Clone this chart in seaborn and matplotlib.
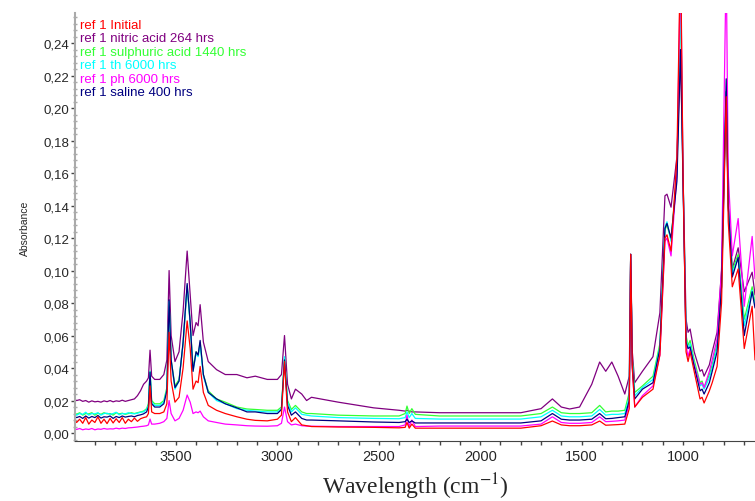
import matplotlib
matplotlib.use("Agg")
import matplotlib.pyplot as plt
import matplotlib.ticker as mticker
from matplotlib.lines import Line2D
import numpy as np
import pandas as pd
import seaborn as sns

# Wavenumber grid (cm-1): a fine noisy stretch, then the main part of the spectrum
wn_noise = [4005, 3990, 3975, 3960, 3945, 3930, 3915, 3900, 3885, 3870, 3855, 3840,
            3825, 3810, 3795, 3780, 3765, 3750, 3735, 3720, 3705, 3690, 3675, 3660]
wn_main = [3645, 3636, 3628, 3620, 3605, 3580, 3560, 3545, 3534, 3524, 3505, 3485,
           3465, 3445, 3430, 3416, 3401, 3391, 3381, 3365, 3341, 3300, 3257, 3200,
           3150, 3109, 3050, 3000, 2980, 2965, 2950, 2931, 2911, 2880, 2856, 2832,
           2700, 2525, 2400, 2370, 2361, 2350, 2337, 2320, 2200, 2000, 1800, 1700,
           1644, 1600, 1559, 1510, 1450, 1411, 1381, 1351, 1320, 1287, 1265, 1258,
           1250, 1238, 1200, 1148, 1114, 1089, 1079, 1059, 1030, 1012, 1000, 985,
           975, 965, 945, 916, 906, 896, 870, 856, 832, 810, 787, 777,
           757, 728, 698, 659, 645]

# ref 1 Initial
red_a = [0.009, 0.0065, 0.0085, 0.006, 0.0095, 0.0055, 0.008, 0.0065, 0.010, 0.006, 0.0085, 0.0058,
         0.009, 0.0062, 0.0088, 0.0065, 0.0095, 0.006, 0.0085, 0.007, 0.0092, 0.0072, 0.0088, 0.0095]
red_b = [0.010, 0.012, 0.029, 0.013, 0.012, 0.012, 0.013, 0.018, 0.062, 0.032, 0.019, 0.022,
         0.040, 0.069, 0.052, 0.027, 0.032, 0.031, 0.041, 0.025, 0.017, 0.014, 0.012, 0.010,
         0.0085, 0.0078, 0.0075, 0.0085, 0.011, 0.044, 0.013, 0.007, 0.0095, 0.005, 0.0045, 0.004,
         0.0037, 0.0035, 0.0032, 0.0035, 0.0065, 0.003, 0.0055, 0.003, 0.003, 0.003, 0.003, 0.0045,
         0.0074, 0.005, 0.0045, 0.0045, 0.005, 0.0074, 0.0048, 0.005, 0.0052, 0.0055, 0.015, 0.110,
         0.040, 0.016, 0.022, 0.027, 0.048, 0.120, 0.122, 0.112, 0.170, 0.300, 0.160, 0.050,
         0.044, 0.050, 0.038, 0.021, 0.022, 0.0185, 0.026, 0.031, 0.041, 0.080, 0.207, 0.130,
         0.090, 0.101, 0.052, 0.078, 0.045]

# ref 1 nitric acid 264 hrs
purple_a = [0.021, 0.020, 0.0205, 0.0195, 0.020, 0.019, 0.0198, 0.0192, 0.0195, 0.019, 0.0198, 0.0193,
            0.020, 0.0192, 0.0198, 0.0195, 0.0202, 0.0195, 0.020, 0.0205, 0.021, 0.023, 0.026, 0.030]
purple_b = [0.032, 0.034, 0.051, 0.035, 0.033, 0.033, 0.036, 0.045, 0.100, 0.060, 0.044, 0.050,
            0.075, 0.112, 0.085, 0.060, 0.068, 0.066, 0.079, 0.056, 0.044, 0.039, 0.036, 0.036,
            0.034, 0.035, 0.033, 0.033, 0.036, 0.060, 0.030, 0.021, 0.027, 0.024, 0.020, 0.022,
            0.019, 0.0155, 0.014, 0.0135, 0.014, 0.0135, 0.013, 0.013, 0.0125, 0.0125, 0.0125, 0.015,
            0.021, 0.016, 0.0148, 0.016, 0.030, 0.0437, 0.038, 0.0437, 0.035, 0.024, 0.035, 0.110,
            0.050, 0.031, 0.038, 0.047, 0.074, 0.146, 0.147, 0.139, 0.170, 0.235, 0.160, 0.070,
            0.062, 0.064, 0.050, 0.038, 0.039, 0.035, 0.042, 0.050, 0.062, 0.100, 0.210, 0.140,
            0.101, 0.114, 0.087, 0.099, 0.085]

# ref 1 sulphuric acid 1440 hrs
green_a = [0.013, 0.0115, 0.0125, 0.011, 0.012, 0.0118, 0.0125, 0.011, 0.0122, 0.0115, 0.0125, 0.0118,
           0.012, 0.011, 0.0125, 0.0118, 0.0122, 0.0115, 0.012, 0.0125, 0.012, 0.0125, 0.013, 0.0135]
green_b = [0.015, 0.018, 0.038, 0.020, 0.018, 0.018, 0.020, 0.028, 0.080, 0.045, 0.029, 0.033,
           0.055, 0.090, 0.068, 0.040, 0.050, 0.048, 0.056, 0.036, 0.026, 0.021, 0.019, 0.016,
           0.0148, 0.0145, 0.014, 0.014, 0.016, 0.046, 0.020, 0.0145, 0.017, 0.013, 0.012, 0.012,
           0.011, 0.0105, 0.0105, 0.012, 0.0166, 0.012, 0.015, 0.0115, 0.0105, 0.0105, 0.0105, 0.012,
           0.016, 0.0125, 0.012, 0.012, 0.0125, 0.017, 0.013, 0.0135, 0.0135, 0.014, 0.025, 0.110,
           0.045, 0.025, 0.029, 0.035, 0.055, 0.125, 0.128, 0.119, 0.160, 0.270, 0.160, 0.060,
           0.054, 0.057, 0.045, 0.031, 0.032, 0.028, 0.036, 0.042, 0.055, 0.090, 0.210, 0.140,
           0.100, 0.110, 0.070, 0.090, 0.080]

# ref 1 th 6000 hrs
cyan_a = [0.0125, 0.011, 0.012, 0.0115, 0.0128, 0.011, 0.012, 0.0118, 0.0125, 0.011, 0.012, 0.0122,
          0.0115, 0.012, 0.0128, 0.0112, 0.012, 0.0118, 0.0125, 0.012, 0.0118, 0.0122, 0.0128, 0.013]
cyan_b = [0.0145, 0.017, 0.038, 0.019, 0.017, 0.017, 0.019, 0.027, 0.081, 0.044, 0.027, 0.032,
          0.055, 0.091, 0.067, 0.038, 0.049, 0.047, 0.055, 0.035, 0.025, 0.020, 0.018, 0.015,
          0.014, 0.0135, 0.013, 0.013, 0.015, 0.047, 0.019, 0.013, 0.0155, 0.0115, 0.011, 0.0105,
          0.0095, 0.009, 0.0088, 0.0095, 0.013, 0.0095, 0.012, 0.009, 0.0086, 0.0086, 0.0086, 0.010,
          0.014, 0.0105, 0.010, 0.010, 0.0105, 0.0145, 0.011, 0.0115, 0.0115, 0.012, 0.022, 0.110,
          0.043, 0.023, 0.028, 0.033, 0.053, 0.127, 0.130, 0.118, 0.160, 0.270, 0.160, 0.058,
          0.052, 0.055, 0.043, 0.029, 0.030, 0.027, 0.034, 0.040, 0.053, 0.090, 0.210, 0.140,
          0.098, 0.108, 0.066, 0.088, 0.078]

# ref 1 ph 6000 hrs
magenta_a = [0.003, 0.0022, 0.0028, 0.002, 0.0025, 0.0022, 0.0028, 0.002, 0.0025, 0.0023, 0.0028, 0.0024,
             0.0026, 0.0025, 0.003, 0.0026, 0.003, 0.0028, 0.0032, 0.0033, 0.0035, 0.0037, 0.004, 0.0042]
magenta_b = [0.0045, 0.005, 0.0086, 0.0055, 0.0055, 0.006, 0.007, 0.009, 0.020, 0.012, 0.0075, 0.009,
             0.014, 0.0234, 0.019, 0.012, 0.013, 0.0125, 0.0135, 0.010, 0.0075, 0.0065, 0.0055, 0.005,
             0.0045, 0.0043, 0.0042, 0.0045, 0.006, 0.016, 0.007, 0.005, 0.0055, 0.0045, 0.0043, 0.0042,
             0.004, 0.004, 0.004, 0.005, 0.011, 0.004, 0.008, 0.004, 0.0043, 0.0043, 0.0043, 0.0055,
             0.010, 0.0065, 0.006, 0.006, 0.0065, 0.010, 0.007, 0.0072, 0.0075, 0.008, 0.018, 0.110,
             0.040, 0.016, 0.023, 0.029, 0.048, 0.118, 0.120, 0.109, 0.160, 0.290, 0.160, 0.054,
             0.047, 0.052, 0.042, 0.030, 0.031, 0.028, 0.038, 0.045, 0.058, 0.100, 0.290, 0.160,
             0.109, 0.132, 0.078, 0.121, 0.095]

# ref 1 saline 400 hrs
blue_a = [0.0105, 0.0095, 0.0102, 0.009, 0.0105, 0.0092, 0.0102, 0.0095, 0.0108, 0.0092, 0.0100, 0.0098,
          0.0105, 0.009, 0.0102, 0.0095, 0.0105, 0.0098, 0.0102, 0.0105, 0.010, 0.0108, 0.0112, 0.0118]
blue_b = [0.013, 0.016, 0.0375, 0.018, 0.016, 0.016, 0.018, 0.026, 0.082, 0.045, 0.028, 0.032,
          0.056, 0.092, 0.068, 0.038, 0.050, 0.048, 0.057, 0.036, 0.025, 0.021, 0.018, 0.0155,
          0.013, 0.013, 0.012, 0.012, 0.0145, 0.045, 0.017, 0.011, 0.013, 0.009, 0.008, 0.008,
          0.0075, 0.0068, 0.0065, 0.007, 0.0085, 0.0065, 0.0075, 0.0062, 0.0062, 0.0062, 0.0062, 0.0075,
          0.012, 0.0085, 0.008, 0.008, 0.0085, 0.012, 0.0088, 0.009, 0.0095, 0.010, 0.020, 0.110,
          0.042, 0.021, 0.027, 0.031, 0.052, 0.126, 0.129, 0.120, 0.155, 0.236, 0.155, 0.056,
          0.052, 0.053, 0.041, 0.026, 0.027, 0.024, 0.031, 0.038, 0.050, 0.090, 0.218, 0.140,
          0.096, 0.108, 0.060, 0.087, 0.077]

legend_labels = ["ref 1 Initial", "ref 1 nitric acid 264 hrs", "ref 1 sulphuric acid 1440 hrs",
                 "ref 1 th 6000 hrs", "ref 1 ph 6000 hrs", "ref 1 saline 400 hrs"]
legend_colors = ["#ff0000", "#800080", "#33ff33", "#00ffff", "#ff00ff", "#000080"]

series = {
    "ref 1 Initial": red_a + red_b,
    "ref 1 nitric acid 264 hrs": purple_a + purple_b,
    "ref 1 sulphuric acid 1440 hrs": green_a + green_b,
    "ref 1 th 6000 hrs": cyan_a + cyan_b,
    "ref 1 ph 6000 hrs": magenta_a + magenta_b,
    "ref 1 saline 400 hrs": blue_a + blue_b,
}
wn = wn_noise + wn_main
df = pd.concat([pd.DataFrame({"wn": wn, "absorbance": v, "sample": k}) for k, v in series.items()])

# drawing order (red on top)
draw_order = [legend_labels[i] for i in [1, 2, 3, 4, 5, 0]]
palette = dict(zip(legend_labels, legend_colors))

sns.set_style("white")
plt.rcParams["font.family"] = ["Liberation Sans", "DejaVu Sans"]
plt.rcParams["mathtext.fontset"] = "stix"

fig = plt.figure(figsize=(7.55, 5.02), dpi=100)
ax = fig.add_axes([75 / 755, 60 / 502, 680 / 755, 428 / 502])

sns.lineplot(data=df, x="wn", y="absorbance", hue="sample", hue_order=draw_order,
             palette=palette, estimator=None, sort=False, legend=False, lw=0.9, ax=ax)

ax.set_xlim(3998, 645)
ax.set_ylim(-0.0049, 0.2585)

ax.set_xticks([3500, 3000, 2500, 2000, 1500, 1000])
ax.xaxis.set_minor_locator(mticker.MultipleLocator(100))
ax.set_yticks(np.arange(0, 0.241, 0.02))
ax.yaxis.set_minor_locator(mticker.MultipleLocator(0.004))
ax.yaxis.set_major_formatter(mticker.FuncFormatter(lambda v, p: f"{v:.2f}".replace(".", ",")))

ax.tick_params(axis="x", which="both", direction="out", length=3, width=1, color="#444444",
               labelsize=10.5, pad=3, bottom=True)
ax.tick_params(axis="y", which="major", direction="out", length=3, width=1, color="#444444",
               labelsize=9.5, pad=1, left=True)
ax.tick_params(axis="y", which="minor", direction="inout", length=3, width=1, color="#aaaaaa", left=True)

for s in ["top", "right"]:
    ax.spines[s].set_visible(False)
ax.spines["bottom"].set_color("#444444")
ax.spines["left"].set_color("#aaaaaa")
ax.spines["left"].set_linewidth(1.5)

ax.set_xlabel("Wavelength (cm$^{-1}$)", fontsize=17, family="Liberation Serif", labelpad=5)
ax.set_ylabel("Absorbance", fontsize=7.5, labelpad=10)

handles = [Line2D([], [], linestyle="none") for _ in legend_labels]
ax.legend(handles, legend_labels, loc="upper left", bbox_to_anchor=(0, 1), frameon=False,
          handlelength=0, handletextpad=0, borderaxespad=0.2, borderpad=0.2,
          labelspacing=0.1, fontsize=9.5, labelcolor=legend_colors)

fig.savefig("out.png", dpi=100)
